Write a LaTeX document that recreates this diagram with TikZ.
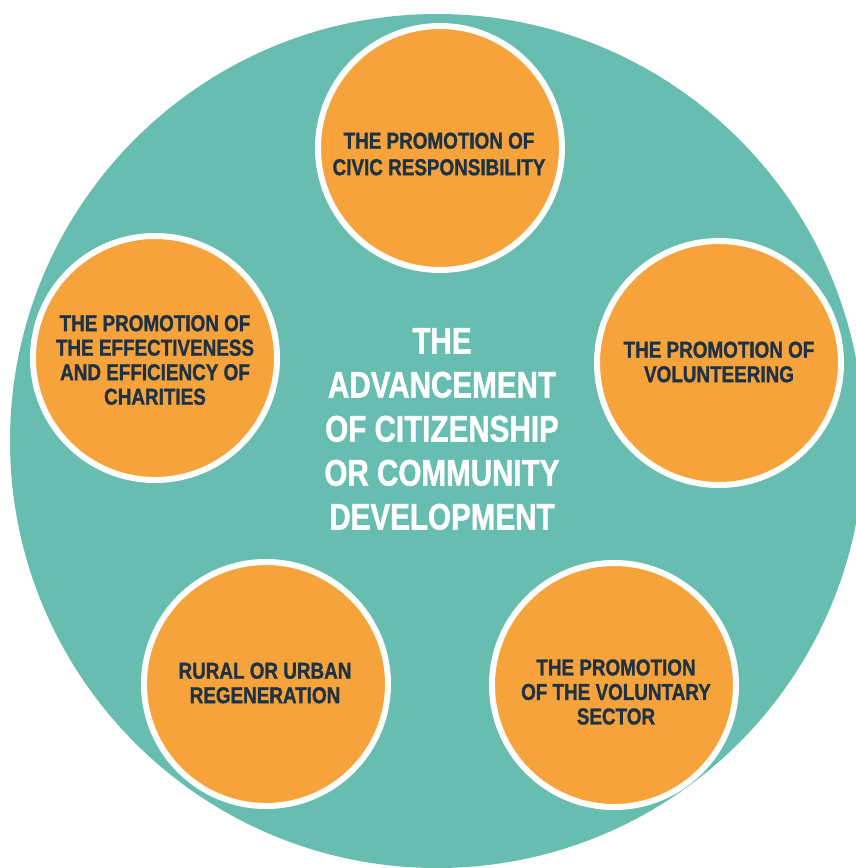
\documentclass[tikz,border=0pt]{standalone}
\usepackage{fontspec}
\newfontfamily\smallf{Liberation Sans}[FakeStretch=0.82, FakeBold=1.2]
\newfontfamily\bigf{Liberation Sans}[FakeStretch=0.8, FakeBold=1.2]
\definecolor{teal}{RGB}{102,189,176}
\definecolor{orng}{RGB}{247,163,60}
\definecolor{navy}{RGB}{30,50,70}
\tikzset{
  bigdisc/.style={circle, fill=teal, inner sep=0pt, minimum size=854pt},
  bubble/.style={circle, fill=orng, draw=white, line width=6pt, inner sep=0pt, minimum size=244pt},
  bubtext/.style={align=center, text=navy, font=\smallf\bfseries\fontsize{23}{24.5}\selectfont},
  centertext/.style={align=center, text=white, font=\bigf\bfseries\fontsize{37}{44}\selectfont}
}
\begin{document}
\begin{tikzpicture}[x=1pt, y=-1pt]
\useasboundingbox (0,0) rectangle (856,868);
\clip (0,0) rectangle (856,868);
\fill[white] (0,0) rectangle (856,868);
\node[bigdisc] (disc) at (437,441) {};
\node[bubble] (civic) at (440,148) {};
\node[bubble] (charities) at (155,358) {};
\node[bubble] (volunteering) at (719,363) {};
\node[bubble] (rural) at (266,684) {};
\node[bubble] (sector) at (614,685) {};
\node[bubtext, font=\smallf\bfseries\fontsize{23}{26.5}\selectfont] (t1) at (439,154) {THE PROMOTION OF\\CIVIC RESPONSIBILITY};
\node[bubtext] (t2) at (155,360) {THE PROMOTION OF\\THE EFFECTIVENESS\\AND EFFICIENCY OF\\CHARITIES};
\node[bubtext] (t3) at (719,362) {THE PROMOTION OF\\VOLUNTEERING};
\node[bubtext] (t4) at (265,683) {RURAL OR URBAN\\REGENERATION};
\node[bubtext] (t5) at (616,692) {THE PROMOTION\\OF THE VOLUNTARY\\SECTOR};
\node[centertext] (title) at (442,429) {THE\\ADVANCEMENT\\OF CITIZENSHIP\\OR COMMUNITY\\DEVELOPMENT};
\end{tikzpicture}
\end{document}
